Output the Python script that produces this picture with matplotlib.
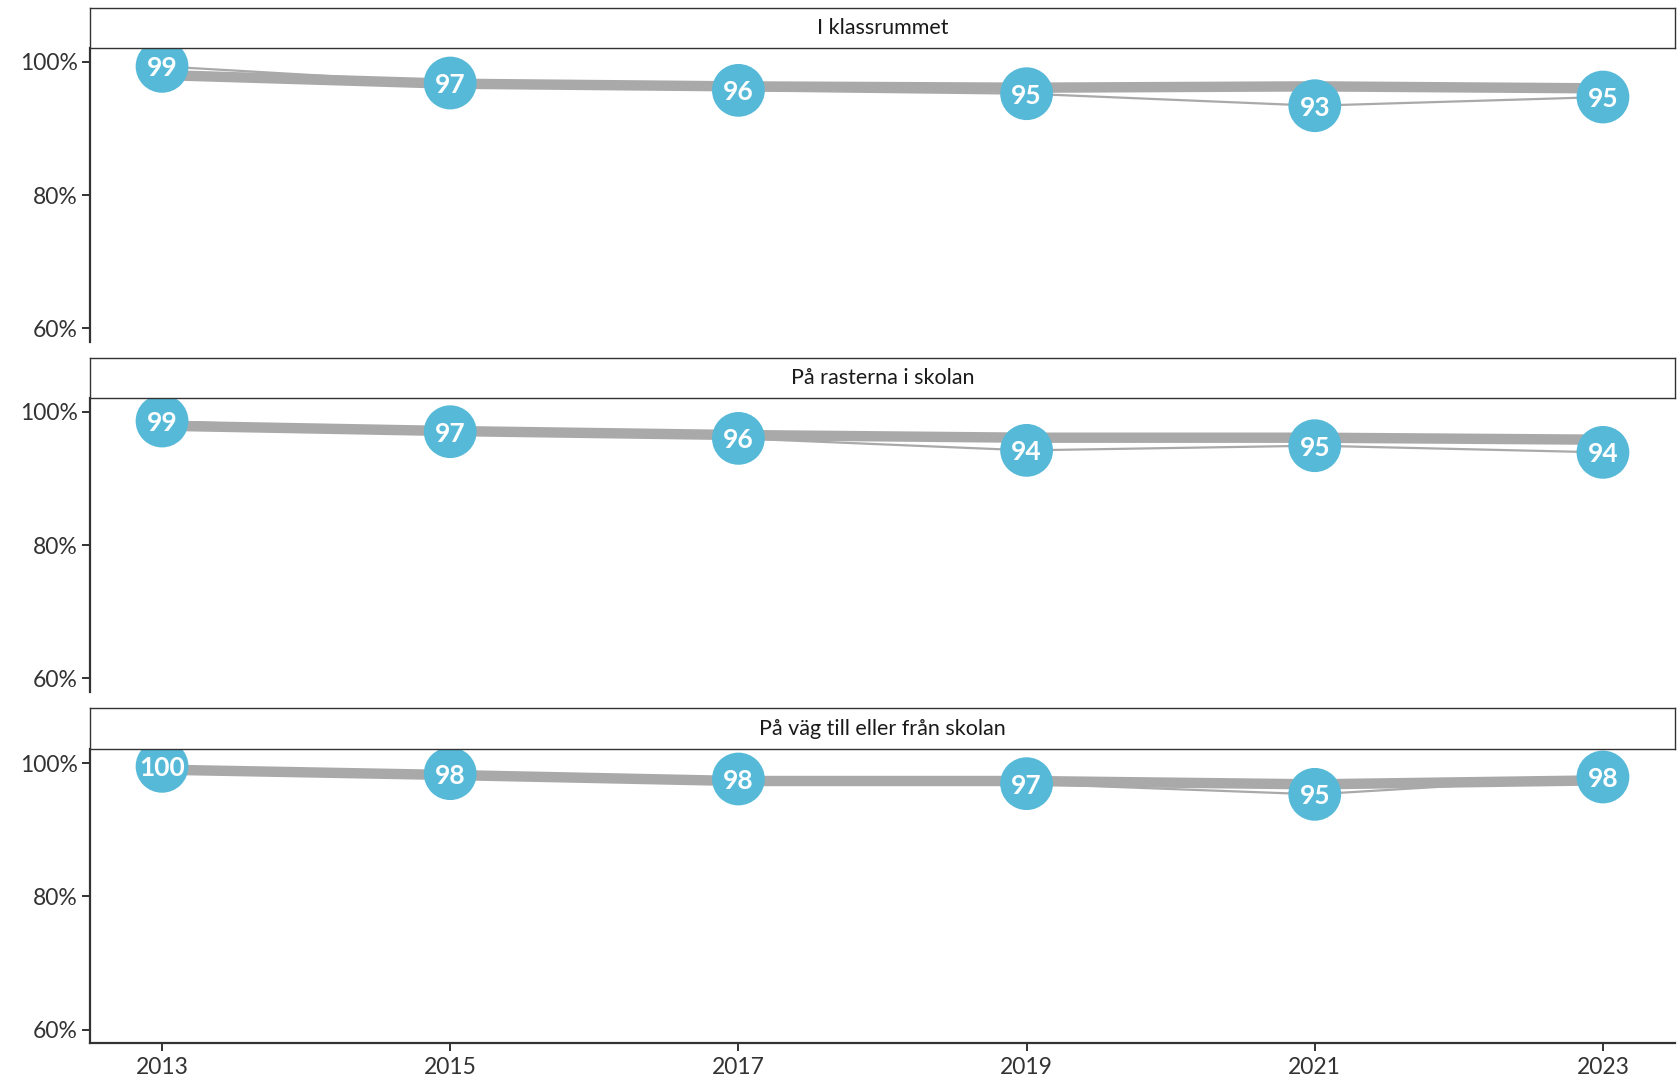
import matplotlib
matplotlib.use("Agg")
import matplotlib.pyplot as plt
from matplotlib.ticker import FuncFormatter

plt.rcParams['font.family'] = ['Lato', 'DejaVu Sans']

years = [2013, 2015, 2017, 2019, 2021, 2023]

titles = ["I klassrummet", "På rasterna i skolan", "På väg till eller från skolan"]

# school values (blue points) and their printed labels
school_1 = [99.3, 96.8, 95.7, 95.2, 93.4, 94.7]
school_2 = [98.6, 97.0, 96.0, 94.2, 94.9, 93.9]
school_3 = [99.5, 98.4, 97.6, 96.9, 95.3, 97.9]
labels_1 = [99, 97, 96, 95, 93, 95]
labels_2 = [99, 97, 96, 94, 95, 94]
labels_3 = [100, 98, 98, 97, 95, 98]

# comparison values (thick gray line)
ref_1 = [98.0, 96.7, 96.3, 96.1, 96.3, 96.0]
ref_2 = [97.9, 97.1, 96.5, 96.1, 96.1, 95.8]
ref_3 = [99.0, 98.2, 97.3, 97.3, 96.8, 97.4]

yticks = [60, 80, 100]

BLUE = "#56B9D8"
GRAY = "#A9A9A9"
DARK = "#333333"

W, H = 1680, 1081
fig = plt.figure(figsize=(W / 100, H / 100), dpi=100)

left = 90 / W
width = (1675 - 90) / W
# (axes top, axes bottom, strip top) in pixels from the top
panels = [(47.7, 341.7, 7.5), (397.7, 691.7, 357.7), (749.0, 1043.0, 708.3)]

school = [school_1, school_2, school_3]
labels = [labels_1, labels_2, labels_3]
refs = [ref_1, ref_2, ref_3]

for i, (top, bot, stop) in enumerate(panels):
    ax = fig.add_axes([left, 1 - bot / H, width, (bot - top) / H])
    ax.plot(years, refs[i], color=GRAY, lw=7.5, solid_capstyle='butt', zorder=2)
    ax.plot(years, school[i], color=GRAY, lw=1.6, zorder=2)
    ax.scatter(years, school[i], s=38**2, color=BLUE, edgecolor='none', zorder=3)
    for x, y, lab in zip(years, school[i], labels[i]):
        ax.text(x, y, str(lab), ha='center', va='center_baseline', color='white',
                fontsize=19, fontweight='bold', zorder=4)

    ax.set_xlim(2012.5, 2023.5)
    ax.set_ylim(58, 102.1)
    ax.set_yticks(yticks)
    ax.yaxis.set_major_formatter(FuncFormatter(lambda v, p: f"{v:.0f}%"))
    ax.tick_params(axis='y', labelsize=16.5, colors=DARK, length=6, width=1.4, pad=3)
    for s in ['top', 'right']:
        ax.spines[s].set_visible(False)
    ax.spines['left'].set_color(DARK)
    ax.spines['left'].set_linewidth(1.6)
    if i < 2:
        ax.spines['bottom'].set_visible(False)
        ax.set_xticks([])
    else:
        ax.spines['bottom'].set_color(DARK)
        ax.spines['bottom'].set_linewidth(1.6)
        ax.set_xticks(years)
        ax.tick_params(axis='x', labelsize=16.5, colors=DARK, length=6, width=1.4, pad=4)

    # facet strip
    sax = fig.add_axes([left, 1 - top / H, width, (top - stop) / H])
    sax.set_xticks([])
    sax.set_yticks([])
    for s in sax.spines.values():
        s.set_color(DARK)
        s.set_linewidth(1.0)
    sax.text(0.5, 0.5, titles[i], ha='center', va='center', fontsize=15.5,
             color='#1a1a1a', transform=sax.transAxes)

fig.savefig("out.png", dpi=100)
